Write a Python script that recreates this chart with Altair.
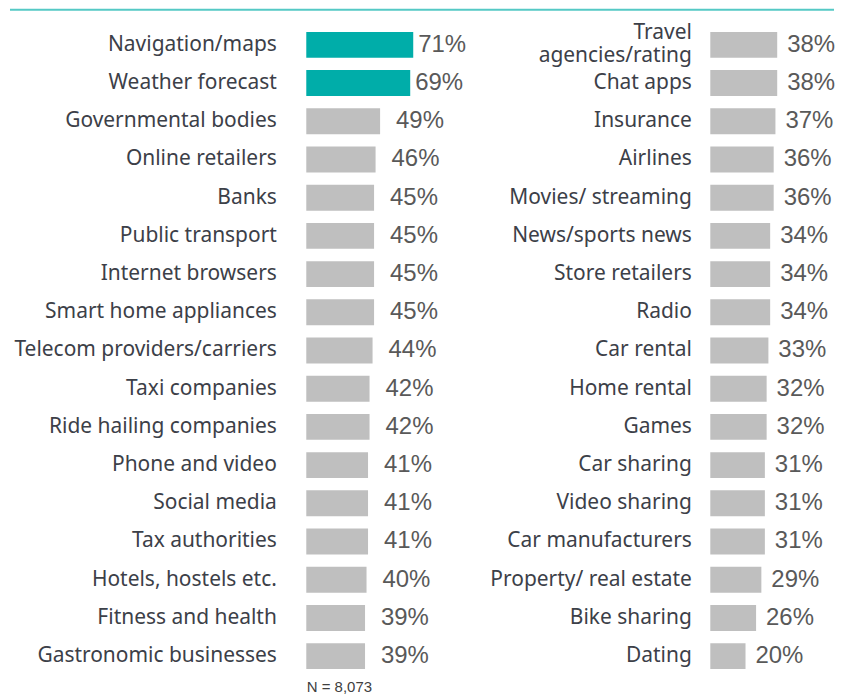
import altair as alt
import pandas as pd

left_cats = ["Navigation/maps", "Weather forecast", "Governmental bodies", "Online retailers",
             "Banks", "Public transport", "Internet browsers", "Smart home appliances",
             "Telecom providers/carriers", "Taxi companies", "Ride hailing companies",
             "Phone and video", "Social media", "Tax authorities", "Hotels, hostels etc.",
             "Fitness and health", "Gastronomic businesses"]
left_vals = [71, 69, 49, 46, 45, 45, 45, 45, 44, 42, 42, 41, 41, 41, 40, 39, 39]
left_highlight = [True, True] + [False] * 15

right_cats = ["Travel agencies/rating", "Chat apps", "Insurance", "Airlines", "Movies/ streaming",
              "News/sports news", "Store retailers", "Radio", "Car rental", "Home rental",
              "Games", "Car sharing", "Video sharing", "Car manufacturers",
              "Property/ real estate", "Bike sharing", "Dating"]
right_vals = [38, 38, 37, 36, 36, 34, 34, 34, 33, 32, 32, 31, 31, 31, 29, 26, 20]

footnote = "N = 8,073"

TEAL = "#00ada9"
GRAY = "#bfbfbf"
LINE = "#55c9c5"
LABEL_FONT = "Noto Sans"
VALUE_FONT = "Liberation Sans"
LABEL_COLOR = "#3c4048"
VALUE_COLOR = "#595959"

left_df = pd.DataFrame({"cat": left_cats, "val": left_vals, "hl": left_highlight})
left_df["label"] = left_df["val"].astype(str) + "%"
right_df = pd.DataFrame({"cat": right_cats, "val": right_vals})
right_df["label"] = right_df["val"].astype(str) + "%"

H = 651
band_scale = dict(paddingInner=0.32, paddingOuter=0.16)
MULTI = "Travel agencies/rating"


def base_chart(df, cats, pad, extent):
    return alt.Chart(df).encode(
        y=alt.Y("cat:N", sort=cats, scale=alt.Scale(**band_scale),
                axis=alt.Axis(title=None, ticks=False, domain=False, grid=False,
                              labelFont=LABEL_FONT, labelFontSize=21, labelColor=LABEL_COLOR,
                              labelPadding=pad, labelLimit=400, minExtent=extent,
                              maxExtent=extent, labelLineHeight=23,
                              labelOffset={"condition": {"test": f"datum.value == '{MULTI}'", "value": -11.5},
                                           "value": 0},
                              labelExpr=f"datum.value == '{MULTI}' ? ['Travel', 'agencies/rating'] : datum.label")),
    )


def value_text(base, dx):
    return base.mark_text(align="left", baseline="middle", dx=dx, font=VALUE_FONT,
                          fontSize=24, color=VALUE_COLOR).encode(
        x=alt.X("val:Q"),
        text="label:N",
    )


# Left panel
left_xaxis = alt.Axis(title=footnote, labels=False, ticks=False, domain=False, grid=False,
                      titleFont=VALUE_FONT, titleFontSize=15, titleFontWeight="normal",
                      titleColor="#404040", titleAnchor="start", titleAlign="left",
                      titlePadding=4)
lbase = base_chart(left_df, left_cats, 30, 299)
lbars = lbase.mark_bar(size=26).encode(
    x=alt.X("val:Q", scale=alt.Scale(domain=[0, 100], nice=False), axis=left_xaxis),
    color=alt.Color("hl:N", scale=alt.Scale(domain=[True, False], range=[TEAL, GRAY]), legend=None),
)
ltext_hl = value_text(lbase.transform_filter("datum.hl"), 5)
ltext_rest = value_text(lbase.transform_filter("!datum.hl"), 16)

top_rule = alt.Chart(pd.DataFrame({"k": [0]})).mark_rule(color=LINE, strokeWidth=2).encode(
    x=alt.value(-297), x2=alt.value(529), y=alt.value(-16)
)
left = alt.layer(top_rule, lbars, ltext_hl, ltext_rest).properties(width=151, height=H)

# Right panel
rbase = base_chart(right_df, right_cats, 19, 230)
rbars = rbase.mark_bar(size=26, color=GRAY).encode(
    x=alt.X("val:Q", scale=alt.Scale(domain=[0, 68], nice=False), axis=None),
)
rtext = value_text(rbase, 10)
right = alt.layer(rbars, rtext).properties(width=120, height=H)

chart = alt.hconcat(left, right, spacing=254, bounds="flush").properties(
    padding=0, background="white"
).configure_view(stroke=None)

chart.save("out.html", embed_options={"renderer": "svg", "actions": False})
